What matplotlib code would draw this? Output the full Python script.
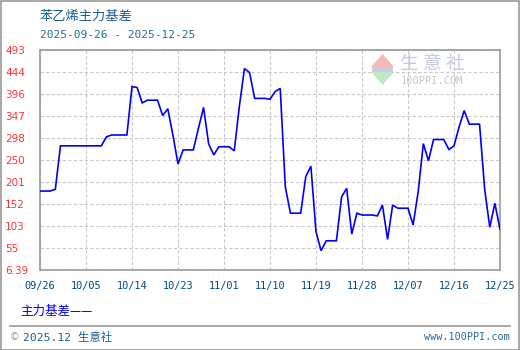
import matplotlib
matplotlib.use("Agg")
import matplotlib.pyplot as plt
import matplotlib.dates as mdates
import numpy as np
import pandas as pd
from matplotlib.patches import Polygon, Rectangle
from matplotlib.lines import Line2D

title = "苯乙烯主力基差"
subtitle = "2025-09-26 - 2025-12-25"
series_name = "主力基差"

dates = ["2025-09-26", "2025-09-28", "2025-09-29", "2025-09-30", "2025-10-08",
         "2025-10-09", "2025-10-10", "2025-10-12", "2025-10-13", "2025-10-14",
         "2025-10-15", "2025-10-16", "2025-10-17", "2025-10-19", "2025-10-20",
         "2025-10-21", "2025-10-22", "2025-10-23", "2025-10-24", "2025-10-26",
         "2025-10-27", "2025-10-28", "2025-10-29", "2025-10-30", "2025-10-31",
         "2025-11-02", "2025-11-03", "2025-11-04", "2025-11-05", "2025-11-06",
         "2025-11-07", "2025-11-09", "2025-11-10", "2025-11-11", "2025-11-12",
         "2025-11-13", "2025-11-14", "2025-11-16", "2025-11-17", "2025-11-18",
         "2025-11-19", "2025-11-20", "2025-11-21", "2025-11-23", "2025-11-24",
         "2025-11-25", "2025-11-26", "2025-11-27", "2025-11-28", "2025-11-30",
         "2025-12-01", "2025-12-02", "2025-12-03", "2025-12-04", "2025-12-05",
         "2025-12-07", "2025-12-08", "2025-12-09", "2025-12-10", "2025-12-11",
         "2025-12-12", "2025-12-14", "2025-12-15", "2025-12-16", "2025-12-17",
         "2025-12-18", "2025-12-19", "2025-12-21", "2025-12-22", "2025-12-23",
         "2025-12-24", "2025-12-25"]
values = [181, 181, 185, 281, 281,
          301, 305, 305, 305, 412,
          410, 376, 382, 382, 348,
          363, 305, 241, 272, 272,
          320, 366, 285, 261, 279,
          279, 270, 368, 452, 443,
          386, 386, 384, 401, 408,
          190, 132, 132, 213, 236,
          91, 49, 71, 71, 168,
          187, 86, 132, 128, 128,
          126, 150, 74, 150, 143,
          143, 106, 180, 286, 248,
          295, 295, 273, 281, 323,
          359, 329, 329, 185, 101,
          154, 96]

ytick_labels = ["6.39", "55", "103", "152", "201", "250", "298", "347", "396", "444", "493"]
xtick_labels = ["09/26", "10/05", "10/14", "10/23", "11/01", "11/10",
                "11/19", "11/28", "12/07", "12/16", "12/25"]
xtick_dates = ["2025-09-26", "2025-10-05", "2025-10-14", "2025-10-23", "2025-11-01",
               "2025-11-10", "2025-11-19", "2025-11-28", "2025-12-07", "2025-12-16",
               "2025-12-25"]

CJK = ["Noto Sans CJK SC", "DejaVu Sans"]

W, H = 520, 350
fig = plt.figure(figsize=(W / 100, H / 100), dpi=100)
fig.patch.set_facecolor("white")

def fx(px):
    return px / W

def fy(py):
    return 1 - py / H

ax = fig.add_axes([fx(40), fy(270), fx(500) - fx(40), fy(50) - fy(270)])

x = pd.to_datetime(dates)
ax.plot(x, values, color="#0000ff", lw=1.2, solid_joinstyle="miter", zorder=3)

yvals = [float(v) for v in ytick_labels]
ax.set_ylim(yvals[0], yvals[-1])
yticks = np.linspace(yvals[0], yvals[-1], len(ytick_labels))
ax.set_yticks(yticks)
ax.set_yticklabels(ytick_labels, ha="left", color="#ff3333", fontsize=7.5,
                   family="DejaVu Sans")
xt = pd.to_datetime(xtick_dates)
ax.set_xlim(xt[0], xt[-1])
ax.set_xticks(xt)
ax.set_xticklabels(xtick_labels, color="#004a80", fontsize=7.4, family="DejaVu Sans Mono")
ax.tick_params(axis="y", length=0, pad=25)
ax.tick_params(axis="x", length=0, pad=8)
ax.grid(True, color="#c8c8c8", ls=(0, (3, 2)), lw=0.8)
for s in ax.spines.values():
    s.set_color("#999999")
    s.set_linewidth(1.2)

# watermark logo
fig.patches.append(Polygon([[fx(382.5), fy(54)], [fx(371), fy(67)], [fx(394), fy(67)]],
                           closed=True, transform=fig.transFigure,
                           facecolor="#f4b8b8", edgecolor="none", zorder=1))
fig.patches.append(Polygon([[fx(371), fy(72)], [fx(394), fy(72)], [fx(382.5), fy(85)]],
                           closed=True, transform=fig.transFigure,
                           facecolor="#bfe8c4", edgecolor="none", zorder=1))
fig.patches.append(Rectangle((fx(372), fy(72)), fx(21), fy(67) - fy(72),
                             transform=fig.transFigure, facecolor="#c8cede",
                             edgecolor="none", zorder=1))
fig.text(fx(432), fy(64), "生 意 社", family=CJK, fontsize=13.5, color="#c5cbe0",
         ha="center", va="center", zorder=1)
fig.text(fx(432), fy(81), "100PPI.COM", family="DejaVu Sans Mono", fontsize=7.5,
         color="#c8c8c8", ha="center", va="center", zorder=1)

# texts
fig.text(fx(40), fy(16), title, family=CJK, fontsize=9.5, color="#1a5f8f",
         ha="left", va="center")
fig.text(fx(40), fy(35.5), subtitle, family="DejaVu Sans Mono", fontsize=8,
         color="#2a6a9a", ha="left", va="center")
fig.text(fx(20), fy(311), series_name + "——", family=CJK, fontsize=9,
         color="#0000ff", ha="left", va="center")

fig.add_artist(Line2D([fx(10), fx(510)], [fy(326), fy(326)], color="#999999",
                      lw=1.2, transform=fig.transFigure))
fig.text(fx(10), fy(337), "©", family="DejaVu Sans", fontsize=7, color="#8aa0b8",
         ha="left", va="center")
fig.text(fx(23), fy(337), "2025.12 生意社", family=["DejaVu Sans Mono", "Noto Sans CJK SC"],
         fontsize=8.2, color="#1a5f8f", ha="left", va="center")
fig.text(fx(510), fy(337), "www.100PPI.com", family="DejaVu Sans Mono", fontsize=7.3,
         color="#2a6a9a", ha="right", va="center")

# outer frame
fig.patches.append(Rectangle((0.001, 0.001), 0.997, 0.996, transform=fig.transFigure,
                             facecolor="none", edgecolor="#999999", lw=1.2))

fig.savefig("out.png", dpi=100)
